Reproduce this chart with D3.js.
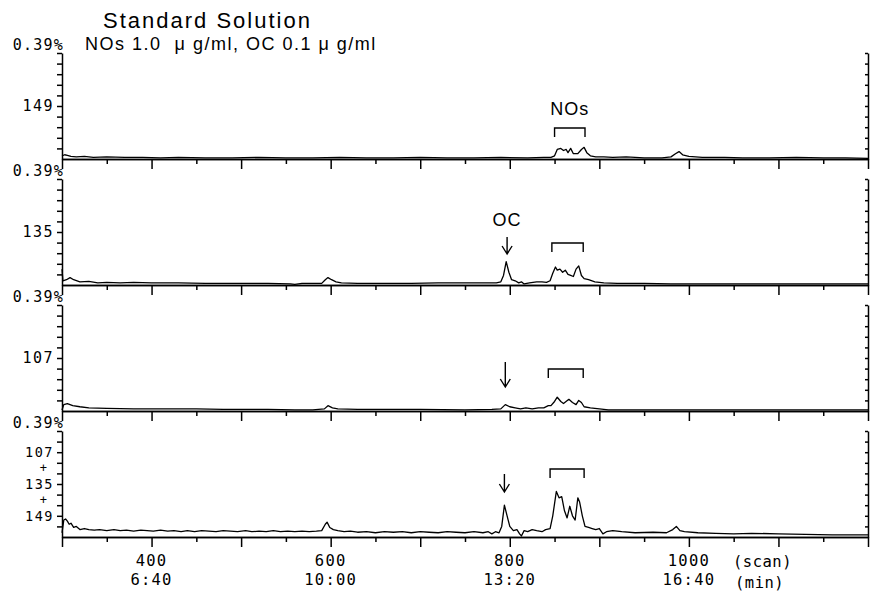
<!DOCTYPE html>
<html>
<head>
<meta charset="utf-8">
<script src="https://cdn.jsdelivr.net/npm/d3@7/dist/d3.min.js"></script>
<style>
  body { margin: 0; background: #fff; }
  .axis path, .axis line { stroke: #000; stroke-width: 1.5; fill: none; }
  .trace { fill: none; stroke: #000; stroke-width: 1.3; stroke-linejoin: round; }
  .mono { font-family: "DejaVu Sans Mono", monospace; fill: #000; }
  .sans { font-family: "Liberation Sans", Arial, sans-serif; fill: #000; }
  .mark { fill: none; stroke: #000; stroke-width: 1.4; }
</style>
</head>
<body>
<div id="chart"></div>
<script>
// chart size and layout
var width = 875, height = 602;
var left = 62, right = 868;
var panelTop0 = 53, panelStep = 126, panelH = 106;

// data: [scan, relative intensity %]
var scanRange = [300, 1200];
var fullScale = "0.39%";

var mz149 = [[300,3],[303,4],[306,3.5],[310,2.5],[316,2],[325,2.5],[335,1.5],[350,2],[370,1.5],[390,1.5],[410,1],
  [430,1.5],[460,1],[490,1],[520,1.5],[550,1],[580,1],[610,1.5],[640,1],[670,1],[700,1.5],[730,1],[760,1],[790,1.5],
  [820,1],[838,1.5],[846,1.5],[850,3],[853,9],[857,10],[860,8],[863,9],[865,6],[868,10],[871,5],[876,5],[880,9],
  [883,11],[886,6],[890,3],[896,2],[905,2],[915,1.5],[930,2],[950,1],[970,1],[980,2],[985,5],[989,7],[993,4],[1000,2.5],
  [1015,1.5],[1040,1.5],[1060,1],[1090,1],[1120,1.5],[1150,1],[1175,1],[1200,0.5]];

var mz135 = [[300,15],[301,4],[305,5],[309,7],[313,5],[320,3],[330,3.5],[340,2],[350,2.5],[365,2],[380,2.5],[400,2],
  [430,2],[460,1.5],[500,1.5],[530,1.5],[555,1],[560,0.5],[568,1.5],[580,1.5],[590,1.5],[594,5],[597,7],[601,5],[606,3],
  [612,2],[630,1.5],[660,1.5],[690,1.5],[720,2],[750,2],[770,2],[785,2],[790,3],[793,9],[796,22],[799,12],[802,5],
  [806,4],[810,2],[813,3],[816,1],[822,2],[830,3],[836,3],[841,2.5],[845,4],[848,11],[851,17],[853,14],[856,15],
  [859,12],[862,14],[865,10],[868,9],[871,8],[874,15],[877,18],[880,9],[883,6],[888,5],[895,3],[905,2],[920,1.5],
  [950,1.5],[980,1],[1000,1],[1050,1],[1100,1],[1150,1],[1200,1]];

var mz107 = [[300,1],[302,6],[306,7],[312,5],[320,4],[330,3],[350,2.5],[380,2],[400,2],[430,2],[450,2],[480,1.5],
  [500,1.5],[530,1.5],[560,1],[580,1],[593,2],[597,5],[602,3],[608,2],[630,1.5],[650,1.5],[700,1.5],[750,1],[780,1.5],
  [790,2],[795,6],[800,4],[806,3],[812,2],[818,3],[825,2],[832,3],[838,3],[843,5],[846,5],[850,9],[853,13],[857,9],
  [860,7],[866,11],[870,8],[874,6],[877,10],[880,8],[883,4],[890,3],[900,2],[910,1],[950,1],[1000,1],[1050,1],
  [1100,1],[1150,1],[1200,1]];

var mzSum = [[300,4],[302,16],[304,17],[306,15],[308,12],[310,13],[313,9],[316,10],[320,7],[325,8],[330,7],[336,6.5],
  [342,7],[350,6],[358,7],[365,6],[372,6.5],[380,5.5],[388,6.5],[395,6],[402,5.5],[410,6.5],[418,5.5],[425,6],[433,5],
  [440,6],[448,5],[456,6],[464,5.5],[472,5],[480,6],[488,5.5],[496,5],[505,6],[512,5],[520,5.5],[528,5],[536,6],
  [544,5],[552,5.5],[560,5],[568,5.5],[576,5],[584,5.5],[590,6],[594,12],[596,14],[599,9],[603,7],[608,6],[615,5],
  [622,5.5],[630,4.5],[640,5],[650,4],[660,5],[670,4.5],[680,5],[690,4],[700,5],[710,4.5],[720,4],[730,5],[740,4.5],
  [750,4],[760,5],[770,4],[776,5],[780,3],[784,5],[788,4],[791,10],[794,30],[797,20],[800,10],[804,6],[808,7],[811,3],
  [813,1],[816,6],[820,5],[825,7],[830,6],[836,5],[840,7],[845,8],[848,20],[852,43],[855,37],[858,38],[861,25],
  [864,18],[867,29],[870,20],[873,16],[876,37],[878,33],[881,20],[884,10],[888,9],[892,8],[896,7],[900,8],[904,3],
  [908,5],[915,6],[925,5],[940,4],[960,4.5],[975,4],[982,7],[986,10],[990,6],[995,5],[1010,4],[1030,3.5],[1050,3],
  [1070,3.5],[1100,3],[1130,2.5],[1160,2],[1200,2]];

var traces = [mz149, mz135, mz107, mzSum];
var ionLabels = [
  [["149", 50]],
  [["135", 50]],
  [["107", 50]],
  [["107", 80], ["+", 65], ["135", 50], ["+", 35], ["149", 20]]
];

// x labels: scan number / retention time
var xLabelScans = [400, 600, 800, 1000];
var xLabelTimes = ["6:40", "10:00", "13:20", "16:40"];

// annotations
var arrowScans = [null, 797, 795, 794];
var bracketScans = [[850, 884], [847, 882], [843, 882], [845, 883]];

var svg = d3.select("#chart").append("svg")
  .attr("width", width).attr("height", height);

var x = d3.scaleLinear().domain(scanRange).range([left, right]);
var line = d3.line();

// title
svg.append("text").attr("class", "sans").attr("x", 103).attr("y", 28)
  .style("font-size", "22px").style("letter-spacing", "2px").text("Standard Solution");
svg.append("text").attr("class", "sans").attr("x", 85).attr("y", 50)
  .style("font-size", "18px").style("letter-spacing", "1.5px").style("white-space", "pre")
  .text("NOs 1.0  \u03bc g/ml, OC 0.1 \u03bc g/ml");

traces.forEach(function(data, i) {
  var top = panelTop0 + i * panelStep;
  var y = d3.scaleLinear().domain([0, 100]).range([top + panelH, top]);
  var g = svg.append("g");

  // bottom axis: long ticks every 100 scans, short every 50
  g.append("g").attr("class", "axis").attr("transform", "translate(0," + (top + panelH) + ")")
    .call(d3.axisBottom(x).tickValues(d3.range(300, 1201, 100)).tickSize(10).tickSizeOuter(0).tickFormat(""));
  g.append("g").attr("class", "axis").attr("transform", "translate(0," + (top + panelH) + ")")
    .call(d3.axisBottom(x).tickValues(d3.range(350, 1200, 100)).tickSize(5).tickSizeOuter(0).tickFormat(""));

  // left and right frame with ticks
  g.append("g").attr("class", "axis").attr("transform", "translate(" + left + ",0)")
    .call(d3.axisLeft(y).tickValues(d3.range(10, 101, 10)).tickSize(5).tickSizeOuter(0).tickFormat(""));
  g.append("g").attr("class", "axis").attr("transform", "translate(" + right + ",0)")
    .call(d3.axisLeft(y).tickValues(d3.range(10, 101, 10)).tickSize(3).tickSizeOuter(0).tickFormat(""));

  g.selectAll(".axis text").remove();

  // full scale label
  g.append("text").attr("class", "mono").attr("x", left + 2).attr("y", top - 3)
    .attr("text-anchor", "end").style("font-size", "15px").style("letter-spacing", "1.2px").text(fullScale);

  // ion labels (stacked ones in the summed panel are set a bit smaller)
  var fs = i === 3 ? 13.5 : 15;
  ionLabels[i].forEach(function(l) {
    var plus = l[0] === "+";
    g.append("text").attr("class", "mono")
      .attr("x", plus ? 44 : 54).attr("y", y(l[1]))
      .attr("dy", "0.36em").attr("text-anchor", plus ? "middle" : "end")
      .style("font-size", (plus ? 12 : fs) + "px").style("letter-spacing", "1.5px").text(l[0]);
  });

  // trace
  g.append("path").attr("class", "trace")
    .attr("d", line(data.map(function(d) { return [x(d[0]), y(d[1])]; })));

  // bracket over NOs peaks
  var b = bracketScans[i];
  var by = [top + 75, top + 64, top + 64, top + 38][i];
  g.append("path").attr("class", "mark")
    .attr("d", "M" + x(b[0]) + "," + (by + 9) + "V" + by + "H" + x(b[1]) + "V" + (by + 9));

  // arrow at OC
  if (arrowScans[i] !== null) {
    var ax = x(arrowScans[i]);
    var ay = [null, [top + 58, top + 75], [top + 57, top + 82], [top + 43, top + 61]][i];
    g.append("path").attr("class", "mark")
      .attr("d", "M" + ax + "," + ay[0] + "V" + ay[1] + "M" + (ax - 5) + "," + (ay[1] - 8) + "L" + ax + "," + ay[1] + "L" + (ax + 5) + "," + (ay[1] - 8));
  }

  if (i === 0) {
    g.append("text").attr("class", "sans").attr("x", x(867)).attr("y", top + 62)
      .attr("text-anchor", "middle").style("font-size", "18px").style("letter-spacing", "1px").text("NOs");
  }
  if (i === 1) {
    g.append("text").attr("class", "sans").attr("x", x(797)).attr("y", top + 47)
      .attr("text-anchor", "middle").style("font-size", "18px").style("letter-spacing", "1px").text("OC");
  }
});

// x labels under bottom panel
xLabelScans.forEach(function(s, k) {
  svg.append("text").attr("class", "mono").attr("x", x(s)).attr("y", 566)
    .attr("text-anchor", "middle").style("font-size", "15.5px").style("letter-spacing", "1.2px").text(s);
  svg.append("text").attr("class", "mono").attr("x", x(s)).attr("y", 585)
    .attr("text-anchor", "middle").style("font-size", "15.5px").style("letter-spacing", "1.2px").text(xLabelTimes[k]);
});
svg.append("text").attr("class", "mono").attr("x", 733).attr("y", 567)
  .style("font-size", "15.5px").style("letter-spacing", "0.5px").text("(scan)");
svg.append("text").attr("class", "mono").attr("x", 735).attr("y", 588)
  .style("font-size", "15.5px").style("letter-spacing", "0.5px").text("(min)");
</script>
</body>
</html>
